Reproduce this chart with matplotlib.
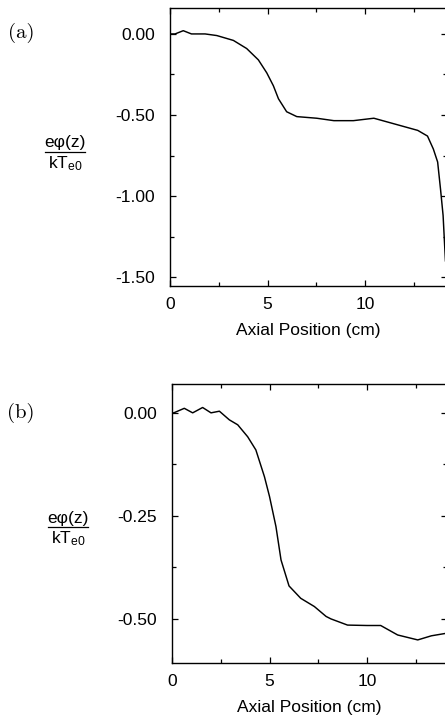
import matplotlib
matplotlib.use("Agg")
import matplotlib.pyplot as plt
from matplotlib.lines import Line2D
from matplotlib.ticker import MultipleLocator

plt.rcParams['font.family'] = ['Liberation Sans', 'DejaVu Sans']
plt.rcParams['mathtext.fontset'] = 'custom'
plt.rcParams['mathtext.rm'] = 'Liberation Sans'
plt.rcParams['mathtext.it'] = 'Liberation Sans:italic'
plt.rcParams['mathtext.default'] = 'rm'

# Panel (a) data
za = [0.0, 0.26, 0.68, 1.1, 1.8, 2.4, 3.25, 3.93, 4.53, 4.96, 5.3, 5.56, 5.98, 6.5,
      7.52, 8.4, 9.4, 10.45, 11.5, 12.7, 13.2, 13.5, 13.72, 13.87, 14.0, 14.06, 14.12]
pa = [0.0, 0.0, 0.02, 0.0, 0.0, -0.01, -0.04, -0.09, -0.16, -0.24, -0.32, -0.40, -0.48, -0.51,
      -0.52, -0.535, -0.535, -0.52, -0.555, -0.595, -0.63, -0.71, -0.79, -0.96, -1.12, -1.26, -1.40]

# Panel (b) data
zb = [0.0, 0.09, 0.63, 1.06, 1.57, 2.0, 2.43, 2.94, 3.37, 3.88, 4.3, 4.74, 5.0, 5.33,
      5.59, 6.0, 6.6, 7.3, 7.9, 8.15, 9.0, 10.0, 10.7, 11.57, 12.6, 13.3, 14.05, 14.2]
pb = [0.0, 0.0, 0.011, 0.0, 0.013, 0.0, 0.004, -0.017, -0.029, -0.058, -0.09, -0.155, -0.203, -0.276,
      -0.357, -0.42, -0.45, -0.47, -0.494, -0.50, -0.515, -0.516, -0.516, -0.539, -0.551, -0.541, -0.535, -0.533]

xticks = [0, 5, 10]
yticks_a = [0.0, -0.5, -1.0, -1.5]
yticks_b = [0.0, -0.25, -0.5]

W, H = 445, 717
FS = 12.5
fig = plt.figure(figsize=(W / 100, H / 100), dpi=100)


def px_axes(l, t, r, b):
    return [l / W, 1 - b / H, (r - l) / W, (b - t) / H]


def fmt(v):
    s = f"{v:.2f}"
    if s == "-0.00":
        s = "0.00"
    return s


def style(ax, yticks, yminor):
    for s in ax.spines.values():
        s.set_linewidth(1.0)
        s.set_color('black')
    ax.set_xticks(xticks)
    ax.set_xticklabels([str(v) for v in xticks])
    ax.xaxis.set_minor_locator(MultipleLocator(2.5))
    ax.set_yticks(yticks)
    ax.set_yticklabels([fmt(v) for v in yticks])
    ax.yaxis.set_minor_locator(MultipleLocator(yminor))
    ax.tick_params(which='both', direction='in', top=True, right=True, width=0.9, colors='black')
    ax.tick_params(which='major', length=4)
    ax.tick_params(which='minor', length=3)
    ax.tick_params(axis='x', which='major', labelsize=FS, pad=8)
    ax.tick_params(axis='y', which='major', labelsize=FS, pad=11)
    ax.set_xlabel('Axial Position (cm)', fontsize=FS, labelpad=8)


# Panel (a)
axa = fig.add_axes(px_axes(170, 8, 447, 286))
axa.plot(za, pa, color='black', lw=1.05)
axa.set_xlim(0, 14.2)
axa.set_ylim(-1.555, 0.16)
style(axa, yticks_a, 0.25)

# Panel (b)
axb = fig.add_axes(px_axes(172, 384, 447, 663))
axb.plot(zb, pb, color='black', lw=1.05)
axb.set_xlim(0, 14.1)
axb.set_ylim(-0.607, 0.07)
style(axb, yticks_b, 0.125)


def ylab(xc, yline):
    yf = 1 - yline / H
    fig.text(xc / W, yf + 1.5 / H, 'e\u03c6(z)', ha='center', va='bottom', fontsize=FS)
    fig.text(xc / W, yf - 2.0 / H, 'kT$_{e0}$', ha='center', va='top', fontsize=FS)
    fig.add_artist(Line2D([(xc - 20) / W, (xc + 20) / W], [yf, yf], color='black', lw=0.9,
                          transform=fig.transFigure))


ylab(65, 152)
ylab(68, 527)

fig.text(21 / W, 1 - 33 / H, '(a)', family='cmr10', fontsize=15, ha='center', va='center')
fig.text(21 / W, 1 - 413 / H, '(b)', family='cmr10', fontsize=15, ha='center', va='center')

fig.savefig('out.png', dpi=100)
